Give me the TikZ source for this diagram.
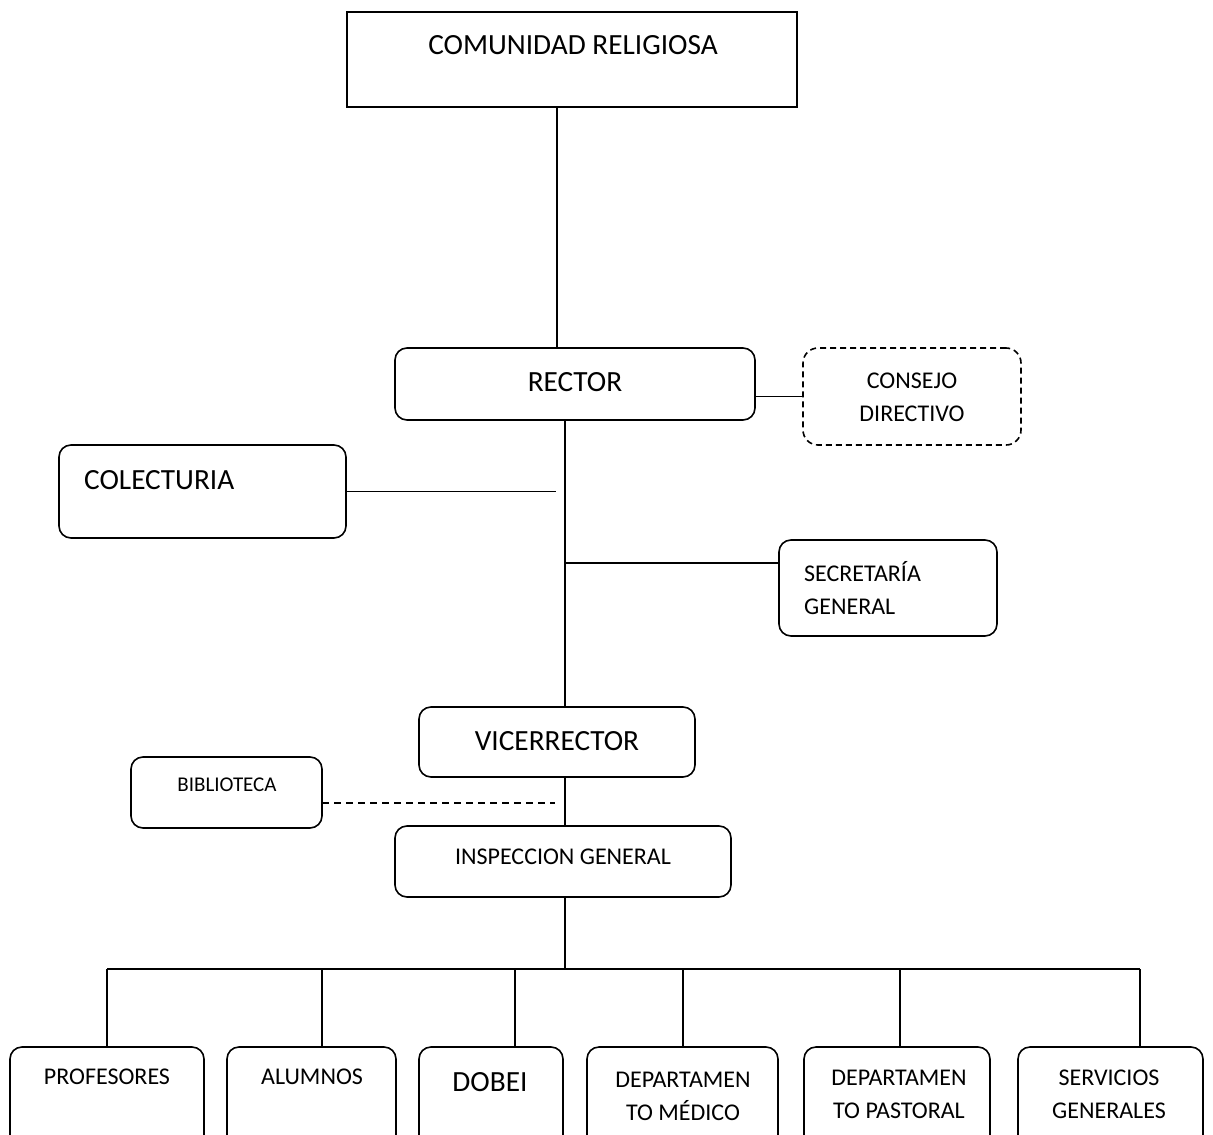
\documentclass[tikz,border=0pt]{standalone}
\usepackage{fontspec}
\setmainfont{Carlito}
\begin{document}
\begin{tikzpicture}[x=1pt,y=-1pt,
  shp/.style={draw, line width=1.6pt, inner sep=0pt, outer sep=0pt},
  rbox/.style={shp, rounded corners=12pt},
  conn/.style={line width=1.6pt},
  big/.style={font=\fontsize{29.3}{35}\selectfont, inner sep=0pt},
  med/.style={font=\fontsize{24}{33}\selectfont, inner sep=0pt, align=center},
  sml/.style={font=\fontsize{21}{30}\selectfont, inner sep=0pt}]
\clip (0,0) rectangle (1213,1135);
\fill[white] (0,0) rectangle (1213,1135);
% boxes
\node[shp, minimum width=450pt, minimum height=95pt] (comunidad) at (572,59.5) {};
\node[rbox, minimum width=360pt, minimum height=72pt] (rector) at (575,384) {};
\node[rbox, dashed, dash pattern=on 6pt off 4pt, rounded corners=15pt, minimum width=218pt, minimum height=97pt] (consejo) at (912,396.5) {};
\node[rbox, minimum width=287pt, minimum height=93pt] (colecturia) at (202.5,491.5) {};
\node[rbox, minimum width=218pt, minimum height=96pt] (secretaria) at (888,588) {};
\node[rbox, minimum width=276pt, minimum height=70pt] (vicerrector) at (557,742) {};
\node[rbox, minimum width=191pt, minimum height=71pt] (biblioteca) at (226.5,792.5) {};
\node[rbox, minimum width=336pt, minimum height=71pt] (inspeccion) at (563,861.5) {};
\node[rbox, minimum width=194pt, minimum height=118pt] (profesores) at (107,1106) {};
\node[rbox, minimum width=169pt, minimum height=118pt] (alumnos) at (311.5,1106) {};
\node[rbox, minimum width=144pt, minimum height=118pt] (dobei) at (491,1106) {};
\node[rbox, minimum width=191pt, minimum height=118pt] (medico) at (682.5,1106) {};
\node[rbox, minimum width=186pt, minimum height=118pt] (pastoral) at (897,1106) {};
\node[rbox, minimum width=185pt, minimum height=118pt] (servicios) at (1110.5,1106) {};
% texts
\node[big] (tcom) at (573,45) {COMUNIDAD RELIGIOSA};
\node[big] (trec) at (575,382) {RECTOR};
\node[med] (tcon) at (912,397) {CONSEJO\\DIRECTIVO};
\node[big, anchor=west] (tcol) at (84,480) {COLECTURIA};
\node[med, align=left, anchor=west] (tsec) at (804,588) {SECRETARÍA\\GENERAL};
\node[big] (tvic) at (557,741) {VICERRECTOR};
\node[sml] (tbib) at (227,785) {BIBLIOTECA};
\node[med] (tins) at (563,857) {INSPECCION GENERAL};
\node[med] (tpro) at (107,1077) {PROFESORES};
\node[med] (talu) at (312,1077) {ALUMNOS};
\node[big] (tdob) at (490,1082) {DOBEI};
\node[med] (tmed) at (683,1096) {DEPARTAMEN\\TO MÉDICO};
\node[med] (tpas) at (899,1094) {DEPARTAMEN\\TO PASTORAL};
\node[med] (tser) at (1109,1094) {SERVICIOS\\GENERALES};
% helper coordinates
\coordinate (topx) at (557,0);
\coordinate (trunk) at (565,0);
\coordinate (colend) at (556,491.5);
\coordinate (secy) at (0,563);
\coordinate (bibend) at (555,803);
\coordinate (busL) at (107,969);
\coordinate (busR) at (1140,969);
\coordinate (dA) at (322,969);
\coordinate (dD) at (515,969);
\coordinate (dM) at (683,969);
\coordinate (dP) at (900,969);
% connectors
\draw[conn] (comunidad.south -| topx) -- (rector.north -| topx);
\draw[conn] (rector.south -| trunk) -- (vicerrector.north -| trunk);
\draw[conn] (consejo.west -| rector.east) -- (consejo.west);
\draw[conn] (colecturia.east) -- (colend);
\draw[conn] (trunk |- secy) -- (secretaria.west |- secy);
\draw[conn] (vicerrector.south -| trunk) -- (inspeccion.north -| trunk);
\draw[conn, dashed, dash pattern=on 7pt off 5pt] (biblioteca.east |- bibend) -- (bibend);
\draw[conn] (inspeccion.south -| trunk) -- (trunk |- busL);
\draw[conn] (busL) -- (busR);
\draw[conn] (busL) -- (profesores.north -| busL);
\draw[conn] (dA) -- (alumnos.north -| dA);
\draw[conn] (dD) -- (dobei.north -| dD);
\draw[conn] (dM) -- (medico.north -| dM);
\draw[conn] (dP) -- (pastoral.north -| dP);
\draw[conn] (busR) -- (servicios.north -| busR);
\end{tikzpicture}
\end{document}
